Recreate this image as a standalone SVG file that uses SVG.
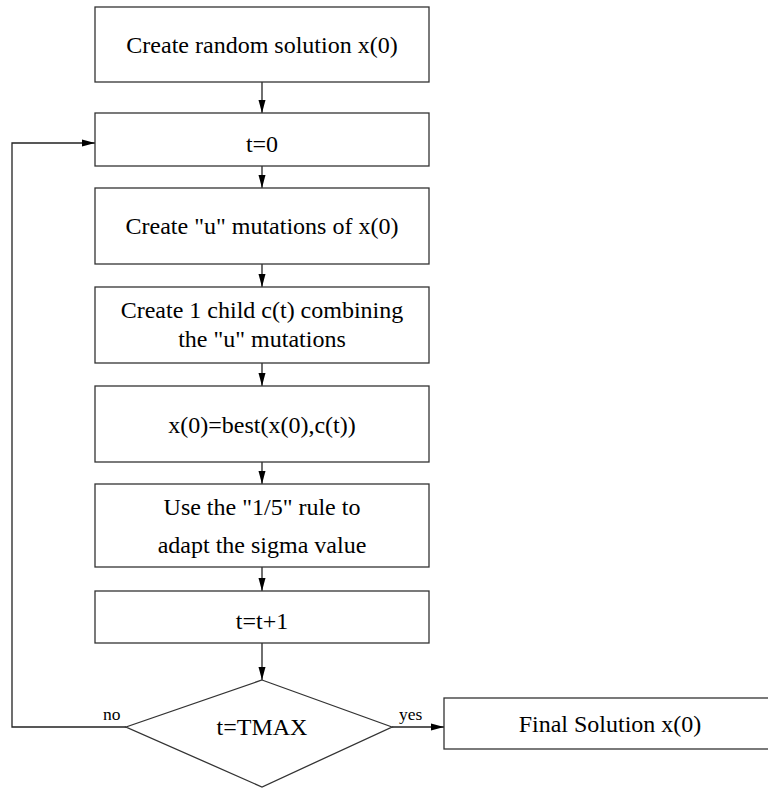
<svg xmlns="http://www.w3.org/2000/svg" width="768" height="788" viewBox="0 0 768 788">
<style>
.box{fill:#fff;stroke:#333;stroke-width:1.3}
.t{font-family:'Liberation Serif','DejaVu Serif',serif;font-size:24px;fill:#000;text-anchor:middle}
.s{font-family:'Liberation Serif','DejaVu Serif',serif;font-size:17.5px;fill:#000}
.c{fill:none;stroke:#222;stroke-width:1.3}
</style>
<defs>
<marker id="ah" markerWidth="14" markerHeight="8" refX="13" refY="4" orient="auto" markerUnits="userSpaceOnUse">
<path d="M0,0.5 L13,4 L0,7.5 Z" fill="#000"/>
</marker>
</defs>
<rect width="768" height="788" fill="#fff"/>
<g id="connectors">
<line class="c" x1="262" y1="82" x2="262" y2="113" marker-end="url(#ah)"/>
<line class="c" x1="262" y1="166" x2="262" y2="188" marker-end="url(#ah)"/>
<line class="c" x1="262" y1="264" x2="262" y2="287" marker-end="url(#ah)"/>
<line class="c" x1="262" y1="363" x2="262" y2="386" marker-end="url(#ah)"/>
<line class="c" x1="262" y1="462" x2="262" y2="484" marker-end="url(#ah)"/>
<line class="c" x1="262" y1="567" x2="262" y2="591" marker-end="url(#ah)"/>
<line class="c" x1="262" y1="643" x2="262" y2="680" marker-end="url(#ah)"/>
<polyline class="c" points="126,727 12,727 12,143 95,143" marker-end="url(#ah)"/>
<line class="c" x1="392" y1="727" x2="444" y2="727" marker-end="url(#ah)"/>
<text class="s" x="103" y="720">no</text>
<text class="s" x="399" y="720">yes</text>
</g>
<g id="n1"><rect class="box" x="95" y="7" width="334" height="75"/><text class="t" x="262" y="53">Create random solution x(0)</text></g>
<g id="n2"><rect class="box" x="95" y="113" width="334" height="53"/><text class="t" x="262" y="152">t=0</text></g>
<g id="n3"><rect class="box" x="95" y="188" width="334" height="76"/><text class="t" x="262" y="234">Create "u" mutations of x(0)</text></g>
<g id="n4"><rect class="box" x="95" y="287" width="334" height="76"/><text class="t" x="262" y="318">Create 1 child c(t) combining</text><text class="t" x="262" y="347">the "u" mutations</text></g>
<g id="n5"><rect class="box" x="95" y="386" width="334" height="76"/><text class="t" x="262" y="433">x(0)=best(x(0),c(t))</text></g>
<g id="n6"><rect class="box" x="95" y="484" width="334" height="83"/><text class="t" x="262" y="515">Use the "1/5" rule to</text><text class="t" x="262" y="553">adapt the sigma value</text></g>
<g id="n7"><rect class="box" x="95" y="591" width="334" height="52"/><text class="t" x="262" y="629">t=t+1</text></g>
<g id="n8"><polygon class="box" points="262,680 392,727 262,787 126,727"/><text class="t" x="262" y="735">t=TMAX</text></g>
<g id="n9"><rect class="box" x="444" y="698" width="332" height="51"/><text class="t" x="610" y="732">Final Solution x(0)</text></g>
</svg>
